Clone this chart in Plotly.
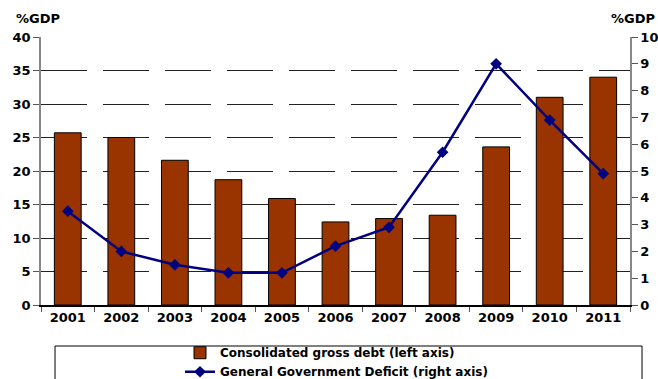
import plotly.graph_objects as go

years = ["2001", "2002", "2003", "2004", "2005", "2006", "2007", "2008", "2009", "2010", "2011"]
gross_debt = [25.7, 25.0, 21.6, 18.7, 15.9, 12.4, 12.9, 13.4, 23.6, 31.0, 34.0]
deficit = [3.5, 2.0, 1.5, 1.2, 1.2, 2.2, 2.9, 5.7, 9.0, 6.9, 4.9]

left_ticks = [0, 5, 10, 15, 20, 25, 30, 35, 40]
right_ticks = [0, 1, 2, 3, 4, 5, 6, 7, 8, 9, 10]

FONT = "DejaVu Sans"
bold = dict(family=FONT, size=13, color="black", weight="bold")
legend_font = dict(family=FONT, size=12, color="black", weight="bold")

fig = go.Figure()
fig.add_trace(go.Bar(
    x=years, y=gross_debt, name="<b>Consolidated gross debt (left axis)</b>",
    marker=dict(color="#993300", line=dict(color="black", width=1)),
    yaxis="y",
))
fig.add_trace(go.Scatter(
    x=years, y=deficit, name="<b>General Government Deficit (right axis)</b>",
    mode="lines+markers",
    line=dict(color="#000080", width=2.5),
    marker=dict(symbol="diamond", size=9, color="#000080"),
    yaxis="y2",
))

fig.update_layout(
    width=658, height=379,
    margin=dict(l=41, r=28, t=37, b=74, autoexpand=False),
    paper_bgcolor="white", plot_bgcolor="white",
    font=bold,
    bargap=0.5,
    showlegend=True,
    legend=dict(
        x=0.236, y=-0.124, xanchor="left", yanchor="top",
        orientation="v", traceorder="normal",
        bgcolor="rgba(0,0,0,0)", borderwidth=0,
        font=legend_font, itemwidth=30, tracegroupgap=0,
    ),
    xaxis=dict(
        type="category", range=[-0.5, len(years) - 0.5], showgrid=False,
        showline=True, linecolor="black", linewidth=1.5,
        ticks="outside", tickson="boundaries", ticklen=5, tickcolor="#555",
        tickfont=bold, automargin=False,
    ),
    yaxis=dict(
        range=[0, 40], tickvals=left_ticks, showgrid=True,
        gridcolor="#222", gridwidth=1, griddash="46px,16px",
        showline=True, linecolor="#888", linewidth=1.5,
        ticks="outside", ticklen=6, tickcolor="#555",
        tickfont=bold, zeroline=False, automargin=False,
    ),
    yaxis2=dict(
        range=[0, 10], tickvals=right_ticks, overlaying="y", side="right",
        showgrid=False, showline=True, linecolor="#888", linewidth=1.5,
        ticks="outside", ticklen=6, tickcolor="#555",
        tickfont=bold, zeroline=False, automargin=False,
    ),
    shapes=[dict(
        type="rect", xref="paper", yref="paper",
        x0=0.0238, x1=1.0204, y0=-0.153, y1=-0.4,
        line=dict(color="black", width=1), fillcolor="rgba(0,0,0,0)",
    )],
    annotations=[
        dict(text="%GDP", xref="paper", yref="paper", x=-0.045, y=1.035,
             xanchor="left", yanchor="bottom", showarrow=False, font=bold),
        dict(text="%GDP", xref="paper", yref="paper", x=1.045, y=1.035,
             xanchor="right", yanchor="bottom", showarrow=False, font=bold),
    ],
)

fig.write_html("out.html")
